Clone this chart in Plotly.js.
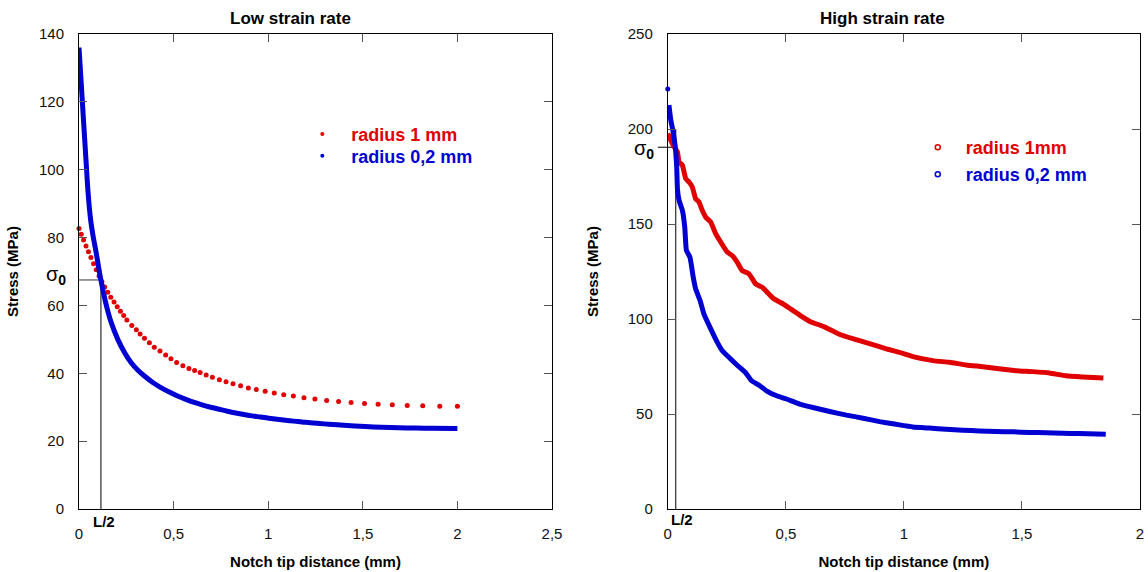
<!DOCTYPE html>
<html>
<head>
<meta charset="utf-8">
<script src="https://cdn.plot.ly/plotly-3.0.1.min.js"></script>
<style>html,body{margin:0;padding:0;background:#fff;}#chart{width:1148px;height:572px;}</style>
</head>
<body>
<div id="chart"></div>
<script>
// ---------- Low strain rate ----------
const lowRed1mmX = [0, 0.012, 0.024, 0.037, 0.050, 0.063, 0.077, 0.091, 0.106, 0.121, 0.136, 0.152, 0.168, 0.185, 0.202, 0.219, 0.236, 0.253, 0.279, 0.303, 0.323, 0.346, 0.372, 0.398, 0.428, 0.458, 0.486, 0.516, 0.549, 0.581, 0.611, 0.640, 0.672, 0.705, 0.742, 0.777, 0.814, 0.854, 0.895, 0.937, 0.984, 1.032, 1.082, 1.133, 1.189, 1.247, 1.309, 1.372, 1.438, 1.509, 1.581, 1.656, 1.735, 1.817, 1.907, 2.0];
const lowRed1mmY = [82.7, 81.0, 79.3, 77.5, 75.8, 74.1, 72.3, 70.5, 68.7, 67.0, 65.4, 63.9, 62.4, 61.0, 59.6, 58.3, 57.0, 55.7, 54.1, 52.8, 51.6, 50.3, 49.0, 47.7, 46.6, 45.4, 44.3, 43.2, 42.2, 41.4, 40.8, 40.2, 39.5, 38.8, 38.1, 37.5, 36.9, 36.3, 35.7, 35.2, 34.7, 34.2, 33.7, 33.3, 32.8, 32.4, 32.0, 31.7, 31.4, 31.1, 30.9, 30.7, 30.5, 30.4, 30.3, 30.3];
const lowBlue02mmX = [0, 0.012, 0.024, 0.036, 0.049, 0.062, 0.075, 0.091, 0.102, 0.116, 0.137, 0.153, 0.170, 0.205, 0.242, 0.275, 0.31, 0.346, 0.39, 0.433, 0.48, 0.521, 0.565, 0.609, 0.65, 0.696, 0.74, 0.784, 0.828, 0.872, 0.915, 0.959, 1.003, 1.047, 1.091, 1.135, 1.18, 1.223, 1.27, 1.32, 1.4, 1.514, 1.6, 1.689, 1.78, 1.865, 2.0];
const lowBlue02mmY = [136.0, 125.2, 114.4, 103.7, 92.5, 85.0, 80.3, 75.5, 71.8, 67.4, 61.8, 58.2, 55.0, 50.0, 46.0, 43.2, 41.0, 39.2, 37.3, 35.8, 34.4, 33.3, 32.3, 31.4, 30.7, 30.0, 29.4, 28.8, 28.3, 27.85, 27.45, 27.1, 26.75, 26.45, 26.15, 25.9, 25.65, 25.4, 25.2, 25.0, 24.7, 24.3, 24.1, 23.95, 23.85, 23.8, 23.75];
const lowSigma0 = 67.5;
const lowHalfL = 0.116;

// ---------- High strain rate ----------
const highRed1mmX = [0, 0.013, 0.025, 0.041, 0.048, 0.062, 0.076, 0.090, 0.104, 0.118, 0.132, 0.146, 0.161, 0.182, 0.203, 0.224, 0.252, 0.273, 0.294, 0.315, 0.344, 0.372, 0.400, 0.421, 0.449, 0.484, 0.520, 0.562, 0.604, 0.661, 0.724, 0.787, 0.858, 0.928, 0.996, 1.038, 1.123, 1.193, 1.264, 1.334, 1.404, 1.475, 1.545, 1.616, 1.686, 1.757, 1.845];
const highRed1mmY = [197.6, 194.0, 191.0, 187.9, 182.6, 180.9, 173.9, 172.1, 169.5, 163.3, 161.6, 157.2, 153.6, 151.0, 144.9, 140.5, 135.2, 133.4, 129.9, 125.5, 123.8, 118.5, 116.7, 114.1, 110.6, 108.3, 105.3, 101.8, 98.6, 96.0, 92.1, 89.5, 86.9, 84.2, 81.9, 80.2, 78.1, 77.2, 75.8, 74.9, 73.8, 72.8, 72.3, 71.6, 70.1, 69.5, 68.9];
const highBlue02mmX = [0.005, 0.013, 0.022, 0.031, 0.038, 0.041, 0.048, 0.062, 0.072, 0.079, 0.094, 0.108, 0.118, 0.137, 0.153, 0.182, 0.210, 0.231, 0.266, 0.30, 0.33, 0.355, 0.39, 0.418, 0.461, 0.503, 0.559, 0.615, 0.686, 0.757, 0.827, 0.897, 0.967, 1.038, 1.108, 1.179, 1.25, 1.320, 1.39, 1.461, 1.532, 1.602, 1.672, 1.743, 1.855];
const highBlue02mmY = [212.6, 204.6, 199.0, 191.5, 180.0, 168.5, 162.4, 157.2, 148.4, 136.1, 132.5, 122.0, 115.9, 109.7, 102.7, 94.8, 87.7, 83.3, 79.0, 75.0, 71.7, 67.5, 64.9, 62.2, 59.6, 57.9, 55.2, 53.4, 51.3, 49.4, 47.8, 46.0, 44.6, 43.2, 42.6, 42.0, 41.5, 41.1, 40.8, 40.6, 40.3, 40.1, 39.9, 39.7, 39.4];
const highBlueFirstX = [0];
const highBlueFirstY = [221];
const highSigma0 = 190.4;
const highHalfL = 0.034;
const highLineTop = 200;

// ---------- labels ----------
const titles = ['Low strain rate', 'High strain rate'];
const xTitle = 'Notch tip distance (mm)';
const yTitle = 'Stress (MPa)';
const legendLow = ['radius 1 mm', 'radius 0,2 mm'];
const legendHigh = ['radius 1mm', 'radius 0,2 mm'];

const RED = '#e00000';
const BLUE = '#0000d2';

function legName(txt, col) { return '<b><span style="color:' + col + '">' + txt + '</span></b>'; }

const traces = [
  {x: lowRed1mmX, y: lowRed1mmY, xaxis: 'x', yaxis: 'y', mode: 'markers', marker: {color: RED, size: 5}, showlegend: false, cliponaxis: false, hoverinfo: 'skip'},
  {x: lowBlue02mmX, y: lowBlue02mmY, xaxis: 'x', yaxis: 'y', mode: 'lines', line: {color: BLUE, width: 5, shape: 'spline', smoothing: 0.8}, showlegend: false, cliponaxis: false, hoverinfo: 'skip'},
  {x: highRed1mmX, y: highRed1mmY, xaxis: 'x2', yaxis: 'y2', mode: 'lines', line: {color: RED, width: 5, shape: 'spline', smoothing: 0.4}, showlegend: false, cliponaxis: false, hoverinfo: 'skip'},
  {x: highBlue02mmX, y: highBlue02mmY, xaxis: 'x2', yaxis: 'y2', mode: 'lines', line: {color: BLUE, width: 5, shape: 'spline', smoothing: 0.4}, showlegend: false, cliponaxis: false, hoverinfo: 'skip'},
  {x: highBlueFirstX, y: highBlueFirstY, xaxis: 'x2', yaxis: 'y2', mode: 'markers', marker: {color: BLUE, size: 5}, showlegend: false, cliponaxis: false, hoverinfo: 'skip'},
  // legend entries (one legend per entry so each sits where the reference has it)
  {x: [null], y: [null], xaxis: 'x', yaxis: 'y', mode: 'markers', marker: {color: RED, size: 4}, legend: 'legend', name: legName(legendLow[0], RED)},
  {x: [null], y: [null], xaxis: 'x', yaxis: 'y', mode: 'markers', marker: {color: BLUE, size: 4}, legend: 'legend3', name: legName(legendLow[1], BLUE)},
  {x: [null], y: [null], xaxis: 'x2', yaxis: 'y2', mode: 'markers', marker: {color: RED, size: 5, symbol: 'circle-open', line: {width: 1.5, color: RED}}, legend: 'legend2', name: legName(legendHigh[0], RED)},
  {x: [null], y: [null], xaxis: 'x2', yaxis: 'y2', mode: 'markers', marker: {color: BLUE, size: 5, symbol: 'circle-open', line: {width: 1.5, color: BLUE}}, legend: 'legend4', name: legName(legendHigh[1], BLUE)}
];

const tickFont = {family: 'Liberation Sans, Arial, sans-serif', size: 15, color: '#111'};
const titleFont = {family: 'Liberation Sans, Arial, sans-serif', size: 15, color: '#000'};

function xAx(domain, range) {
  return {domain: domain, range: range, dtick: 0.5, tick0: 0, ticks: 'inside', ticklen: 8, tickcolor: '#555',
    showline: true, linecolor: '#000', linewidth: 1, mirror: 'ticks', zeroline: false, showgrid: false,
    tickfont: tickFont, ticklabelstandoff: 11, fixedrange: true,
    title: {text: '<b>' + xTitle + '</b>', font: titleFont, standoff: 15}};
}
function yAx(anchor, range, dtick, standoff) {
  return {anchor: anchor, domain: [0, 1], range: range, dtick: dtick, tick0: 0, ticks: 'inside', ticklen: 8, tickcolor: '#555',
    showline: true, linecolor: '#000', linewidth: 1, mirror: 'ticks', zeroline: false, showgrid: false,
    tickfont: tickFont, ticklabelstandoff: 11, fixedrange: true,
    title: {text: '<b>' + yTitle + '</b>', font: titleFont, standoff: standoff}};
}

const legendFont = {family: 'Liberation Sans, Arial, sans-serif', size: 18};
function leg(x, y, w) {
  return {x: x, y: y, xanchor: 'left', yanchor: 'top', bgcolor: 'rgba(0,0,0,0)', borderwidth: 0, font: legendFont, itemwidth: w};
}

const layout = {
  width: 1148, height: 572,
  margin: {l: 79, r: 8, t: 34, b: 63},
  paper_bgcolor: '#fff', plot_bgcolor: '#fff',
  separators: ', ',
  font: {family: 'Liberation Sans, Arial, sans-serif', color: '#000'},
  showlegend: true,
  xaxis: Object.assign(xAx([0, 0.4458], [0, 2.5]), {anchor: 'y'}),
  yaxis: yAx('x', [0, 140], 20, 16),
  xaxis2: Object.assign(xAx([0.5549, 1], [0, 2]), {anchor: 'y2'}),
  yaxis2: yAx('x2', [0, 250], 50, 25),
  legend: leg(0.202, 0.828, 48),
  legend3: leg(0.202, 0.782, 48),
  legend2: leg(0.783, 0.800, 46),
  legend4: leg(0.783, 0.743, 46),
  annotations: [
    {text: '<b>' + titles[0] + '</b>', xref: 'x domain', yref: 'paper', x: 0.448, y: 1, xanchor: 'center', yanchor: 'bottom', yshift: 4, showarrow: false, font: {size: 17}},
    {text: '<b>' + titles[1] + '</b>', xref: 'x2 domain', yref: 'paper', x: 0.454, y: 1, xanchor: 'center', yanchor: 'bottom', yshift: 4, showarrow: false, font: {size: 17}},
    {text: 'σ<sub><b>0</b></sub>', xref: 'x', yref: 'y', x: 0, y: lowSigma0, xanchor: 'right', yanchor: 'middle', xshift: -11, yshift: 4, showarrow: false, font: {size: 20}},
    {text: 'σ<sub><b>0</b></sub>', xref: 'x2', yref: 'y2', x: 0, y: highSigma0, xanchor: 'right', yanchor: 'middle', xshift: -12, yshift: -2, showarrow: false, font: {size: 20}},
    {text: '<b>L/2</b>', xref: 'x', yref: 'y', x: lowHalfL, y: 0, xanchor: 'center', yanchor: 'top', xshift: 3, yshift: -2, showarrow: false, font: {size: 15}},
    {text: '<b>L/2</b>', xref: 'x2', yref: 'y2', x: highHalfL, y: 0, xanchor: 'center', yanchor: 'top', xshift: 6, yshift: 0, showarrow: false, font: {size: 15}}
  ],
  shapes: [
    {type: 'line', xref: 'x', yref: 'y', x0: 0, x1: lowHalfL, y0: lowSigma0, y1: lowSigma0, line: {color: '#333', width: 1}, layer: 'below'},
    {type: 'line', xref: 'x', yref: 'y', x0: lowHalfL, x1: lowHalfL, y0: 0, y1: lowSigma0, line: {color: '#000', width: 1}, layer: 'below'},
    {type: 'line', xref: 'x2 domain', yref: 'y2', x0: -0.021, x1: highHalfL / 2 + 0.004, y0: highSigma0, y1: highSigma0, line: {color: '#000', width: 1}, layer: 'below'},
    {type: 'line', xref: 'x2', yref: 'y2', x0: highHalfL, x1: highHalfL, y0: 0, y1: highLineTop, line: {color: '#000', width: 1}, layer: 'below'}
  ]
};

Plotly.newPlot('chart', traces, layout, {staticPlot: true, displayModeBar: false});
</script>
</body>
</html>
